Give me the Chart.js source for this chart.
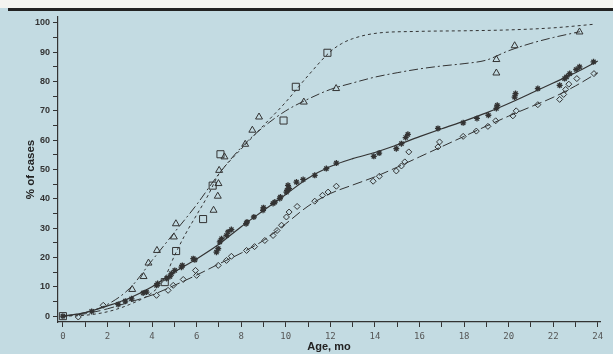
<!DOCTYPE html>
<html>
<head>
<meta charset="utf-8">
<title>% of cases by age</title>
<script src="https://cdn.jsdelivr.net/npm/chart.js@4/dist/chart.umd.min.js"></script>
<style>
    html, body { margin: 0; padding: 0; background: #c3dbe2; }
    #chart { display: block; }
</style>
</head>
<body>
<canvas id="chart" width="613" height="354"></canvas>
<script>
// Observed points, [age in months, % of cases]
const squarePoints = [
    [0, 0], [4.57, 11.6], [5.08, 22.2], [6.29, 33.1], [6.72, 44.5],
    [7.07, 55.2], [9.9, 66.7], [10.45, 78.2], [11.87, 89.8]
];
const trianglePoints = [
    [3.11, 9.1], [3.62, 13.5], [3.84, 18.1], [4.22, 22.4], [4.98, 27.0],
    [5.07, 31.5], [6.76, 36.1], [6.95, 40.9], [6.98, 45.2], [7.01, 49.7],
    [7.25, 54.3], [8.18, 58.6], [8.5, 63.4], [8.8, 67.9], [10.81, 73.0],
    [12.26, 77.6], [19.45, 82.9], [19.45, 87.5], [20.27, 92.2], [23.18, 96.9]
];
const asteriskPoints = [
    [0, 0], [1.29, 1.6], [2.48, 4.0], [2.8, 5.1], [3.08, 5.9], [3.6, 7.9],
    [3.75, 8.2], [4.2, 10.5], [4.25, 11.1], [4.65, 12.8], [4.8, 13.5],
    [4.87, 14.5], [5.02, 15.6], [5.32, 16.7], [5.36, 17.3], [5.85, 19.6],
    [5.92, 19.2], [6.89, 21.8], [6.97, 23.0], [7.04, 25.3], [7.12, 26.4],
    [7.34, 27.5], [7.41, 28.7], [7.56, 29.5], [8.22, 31.5], [8.26, 32.1],
    [8.57, 33.8], [8.98, 36.1], [9.0, 37.0], [9.43, 38.4], [9.51, 38.9],
    [9.73, 40.1], [9.76, 40.6], [10.03, 42.3], [10.06, 42.9], [10.1, 44.6],
    [10.15, 43.5], [10.48, 45.7], [10.78, 46.6], [11.3, 48.0], [11.82, 50.3],
    [12.27, 52.2], [13.95, 54.5], [14.19, 55.6], [14.96, 57.1], [15.19, 58.8],
    [15.38, 60.9], [15.48, 62.0], [16.83, 64.0], [17.96, 65.9], [18.58, 67.4],
    [19.09, 68.5], [19.45, 70.8], [19.49, 71.9], [20.27, 74.7], [20.31, 75.9],
    [21.31, 77.6], [22.29, 78.7], [22.51, 81.0], [22.6, 81.6], [22.74, 82.7],
    [23.03, 84.1], [23.18, 85.0], [23.81, 86.7]
];
const diamondPoints = [
    [0.69, -0.3], [1.81, 3.7], [4.2, 7.1], [4.72, 8.8], [4.95, 10.5],
    [5.4, 12.5], [5.95, 15.6], [6.0, 13.9], [6.97, 17.3], [7.34, 19.0],
    [7.56, 20.4], [8.24, 22.4], [8.6, 23.7], [9.06, 25.8], [9.43, 27.5],
    [9.61, 29.2], [9.81, 31.0], [10.03, 33.8], [10.15, 35.5], [10.51, 37.4],
    [11.3, 39.2], [11.65, 41.2], [11.9, 42.3], [12.27, 44.3], [13.92, 46.0],
    [14.2, 47.7], [14.96, 49.5], [15.19, 51.2], [15.34, 52.6], [15.52, 56.0],
    [16.83, 57.7], [16.9, 59.4], [17.96, 61.3], [18.55, 63.1], [19.07, 64.7],
    [19.42, 66.6], [20.19, 68.3], [20.34, 70.0], [21.31, 72.1], [22.29, 73.9],
    [22.47, 75.6], [22.56, 77.3], [22.7, 79.1], [23.06, 81.0], [23.83, 82.7]
];

// Fitted curves
const squareFitX = [0, 1, 2, 3, 4, 4.5, 5, 5.5, 6, 6.5, 7, 7.5, 8, 9, 10, 11, 12, 12.5, 13, 14, 16, 18, 20, 22, 23.8];
const squareFitY = [0, 0.3, 1.5, 4, 8, 12, 20.5, 28, 34.5, 41, 48.5, 53, 57, 65, 73, 82, 90.2, 92.9, 94.6, 96.4, 97.1, 97.3, 97.6, 98.3, 99.5];

const triangleFitX = [0, 1, 2, 3, 4, 5, 6, 7, 8, 9, 10, 11, 12, 13, 14, 15, 16, 17, 18, 19, 20, 21, 22, 23.2];
const triangleFitY = [0, 1.2, 4, 9.5, 19, 28.5, 38, 48.5, 57.5, 64.5, 70, 74, 77.3, 79.5, 81.5, 83, 84.3, 85.3, 86.1, 87.3, 90.5, 93, 95, 97];

const monthsX = [0, 1, 2, 3, 4, 5, 6, 7, 8, 9, 10, 11, 12, 13, 14, 15, 16, 17, 18, 19, 20, 21, 22, 23, 24];
const asteriskFitY = [0, 1.2, 3.5, 6.2, 10, 15, 19.5, 24.5, 30.5, 36, 41.5, 47, 51, 53.7, 55.8, 58.4, 61.2, 63.9, 66.5, 69.3, 72.5, 76, 79.5, 83, 87];
const diamondFitY = [0, 0.8, 2.5, 4.8, 7.2, 10.5, 14, 17.8, 21.5, 25.8, 31.5, 37.5, 41.8, 44.7, 47.5, 50.8, 54.3, 57.8, 61.3, 64.8, 68.2, 71.4, 74.6, 78.5, 83];

const xTicks = monthsX;
const yTicks = [0, 5, 10, 15, 20, 25, 30, 35, 40, 45, 50, 55, 60, 65, 70, 75, 80, 85, 90, 95, 100];

const INK = '#333';
const BG = '#c3dbe2';

const toXY = arr => arr.map(([x, y]) => ({ x, y }));
const zipXY = (xs, ys) => xs.map((x, i) => ({ x, y: ys[i] }));

const fitLine = (data, dash, width) => ({
    data,
    showLine: true,
    borderColor: INK,
    borderWidth: width,
    borderDash: dash,
    pointRadius: 0,
    cubicInterpolationMode: 'monotone',
    fill: false
});

const markers = (data, style, radius, width = 1) => ({
    data,
    showLine: false,
    pointStyle: style,
    pointRadius: radius,
    pointBorderWidth: width,
    pointBorderColor: INK,
    pointBackgroundColor: 'rgba(0,0,0,0)'
});

// scanned page look: blue paper, white strip and a rule at the top
const pagePlugin = {
    id: 'page',
    beforeDraw(chart) {
        const { ctx, width, height } = chart;
        ctx.save();
        ctx.fillStyle = BG;
        ctx.fillRect(0, 0, width, height);
        ctx.fillStyle = '#f4f4f0';
        ctx.fillRect(0, 0, width, 8);
        ctx.fillStyle = '#222';
        ctx.fillRect(8, 8, width - 8, 3);
        ctx.restore();
    }
};

new Chart(document.getElementById('chart'), {
    type: 'scatter',
    data: {
        datasets: [
            fitLine(zipXY(squareFitX, squareFitY), [3, 3], 1),
            fitLine(zipXY(triangleFitX, triangleFitY), [9, 3, 2, 3], 1),
            fitLine(zipXY(monthsX, asteriskFitY), [], 1.2),
            fitLine(zipXY(monthsX, diamondFitY), [10, 4], 1),
            markers(toXY(squarePoints), 'rect', 5),
            markers(toXY(trianglePoints), 'triangle', 4),
            markers(toXY(asteriskPoints), 'star', 3, 1.3),
            markers(toXY(diamondPoints), 'rectRot', 3)
        ]
    },
    options: {
        responsive: false,
        animation: false,
        devicePixelRatio: 1,
        layout: { padding: { top: 17, right: 13, left: 0, bottom: 0 } },
        plugins: {
            legend: { display: false },
            tooltip: { enabled: false }
        },
        scales: {
            x: {
                type: 'linear',
                min: -0.22,
                max: 24.1,
                afterBuildTicks: scale => { scale.ticks = xTicks.map(v => ({ value: v })); },
                afterFit: scale => { scale.height = 32; },
                grid: { drawOnChartArea: false, tickLength: 5, tickColor: INK },
                border: { color: INK, width: 1.2 },
                ticks: {
                    autoSkip: false,
                    maxRotation: 0,
                    padding: 4,
                    color: '#555',
                    font: { family: 'DejaVu Sans Mono', size: 9 },
                    callback: v => (v % 2 === 0 ? v : '')
                },
                title: {
                    display: true,
                    text: 'Age, mo',
                    color: '#222',
                    font: { family: 'Liberation Sans', size: 11, weight: 'bold' },
                    padding: { top: 0, bottom: 0 }
                }
            },
            y: {
                min: -2,
                max: 102,
                afterBuildTicks: scale => { scale.ticks = yTicks.map(v => ({ value: v })); },
                afterFit: scale => { scale.width = 58; },
                grid: { drawOnChartArea: false, tickLength: 5, tickColor: INK },
                border: { color: INK, width: 1.2 },
                ticks: {
                    autoSkip: false,
                    padding: 3,
                    color: '#333',
                    font: { family: 'Liberation Sans', size: 9, weight: 'bold' },
                    callback: v => (v % 10 === 0 ? v : '')
                },
                title: {
                    display: true,
                    text: '% of cases',
                    color: '#222',
                    font: { family: 'Liberation Sans', size: 11.5, weight: 'bold' },
                    padding: { top: 24, bottom: 24 }
                }
            }
        }
    },
    plugins: [pagePlugin]
});
</script>
</body>
</html>
